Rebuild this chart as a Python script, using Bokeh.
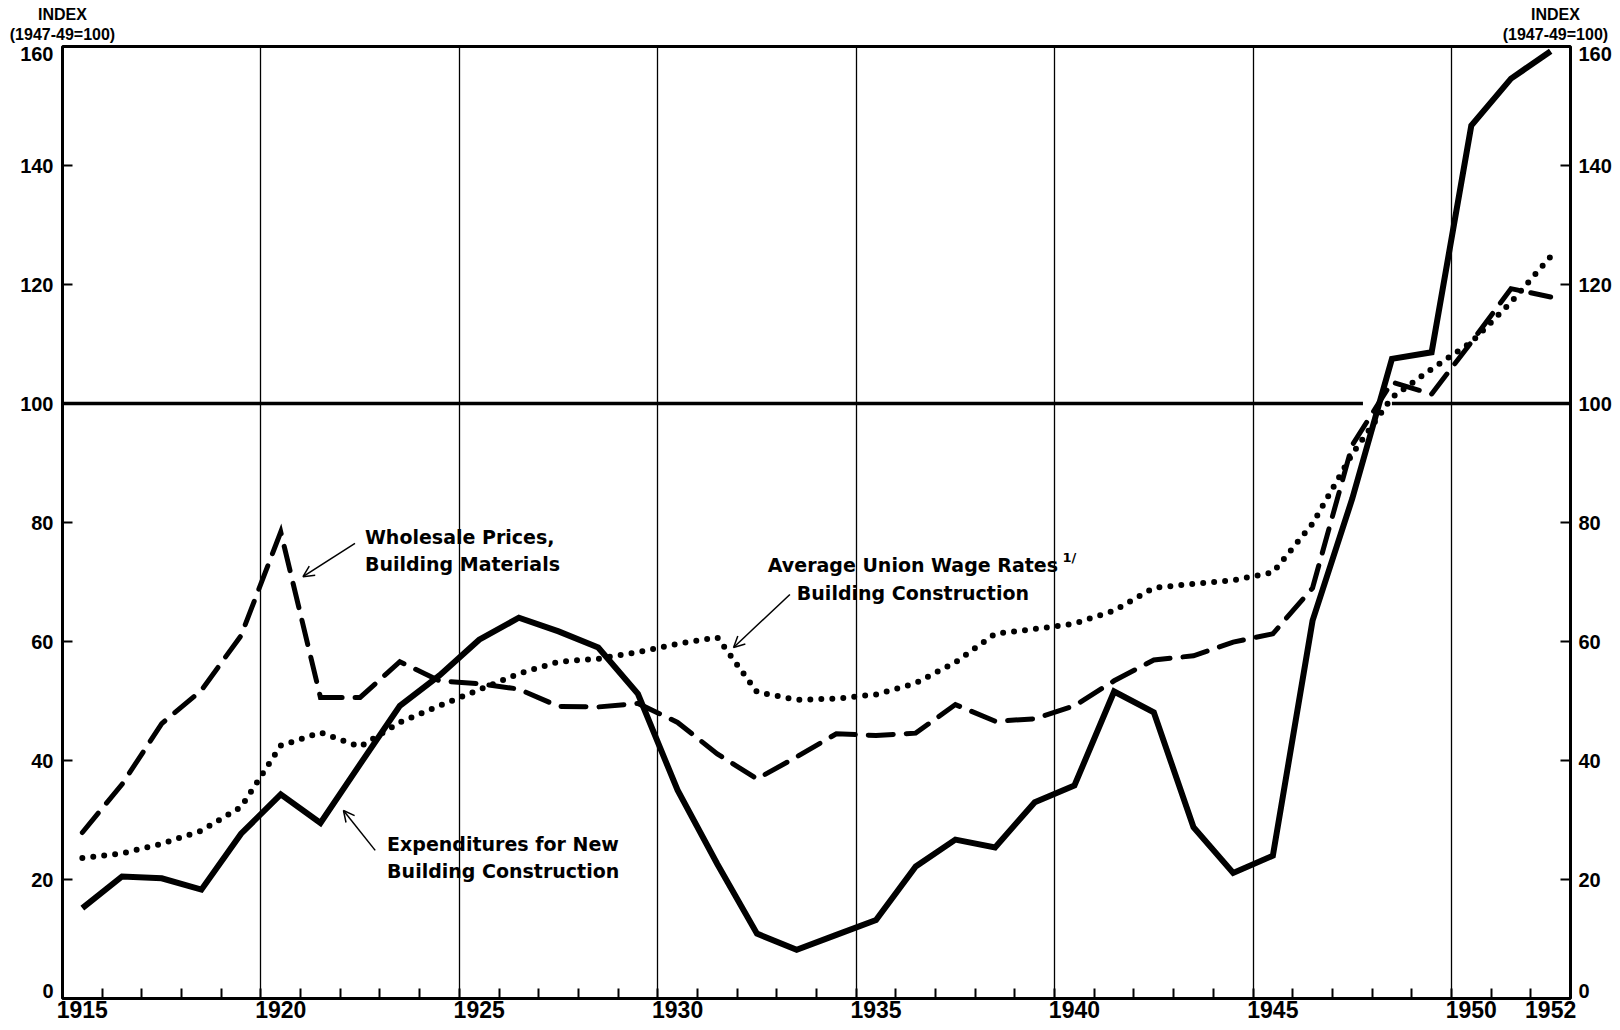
from bokeh.plotting import figure
from bokeh.models import (Range1d, FixedTicker, LinearAxis, CustomJSTickFormatter,
                          Label, Arrow, OpenHead)
from bokeh.embed import file_html
from bokeh.resources import INLINE

# ---------------- data (index, 1947-49 = 100) ----------------
YEARS = list(range(1915, 1953))

EXPENDITURES = [15.2, 20.5, 20.2, 18.3, 27.7, 34.3, 29.5, 39.4, 49.2, 54.3,
                60.3, 64.0, 61.7, 59.0, 51.2, 35.0, 22.6, 10.9, 8.2, 10.7,
                13.2, 22.2, 26.7, 25.4, 33.0, 35.8, 51.6, 48.1, 28.8, 21.1,
                24.0, 63.5, 84.0, 107.5, 108.6, 146.7, 154.6, 159.2]

WHOLESALE = [27.9, 36.0, 46.2, 51.8, 61.0, 78.4, 50.6, 50.6, 56.6, 53.4,
             52.9, 52.0, 49.1, 49.0, 49.6, 46.4, 41.1, 36.9, 40.6, 44.5,
             44.2, 44.6, 49.4, 46.6, 47.0, 49.2, 53.4, 56.9, 57.6, 59.9,
             61.3, 69.0, 93.0, 103.6, 101.6, 110.3, 119.3, 117.9]

UNION_WAGES = [23.6, 24.4, 26.0, 28.2, 32.2, 42.5, 44.7, 42.3, 46.4, 49.2,
               51.9, 54.6, 56.6, 57.1, 58.2, 59.6, 60.7, 51.5, 50.2, 50.4,
               51.1, 53.0, 56.5, 61.3, 62.1, 63.0, 65.2, 69.0, 69.7, 70.3,
               71.6, 79.8, 91.5, 101.0, 105.8, 110.3, 117.0, 124.7]

X_LABEL_YEARS = [1915, 1920, 1925, 1930, 1935, 1940, 1945, 1950, 1952]
GRID_YEARS = [1920, 1925, 1930, 1935, 1940, 1945, 1950]
Y_TICK_VALUES = [0, 20, 40, 60, 80, 100, 120, 140, 160]
BASE_LEVEL = 100
UNIT_TITLE = "INDEX"
UNIT_SUBTITLE = "(1947-49=100)"

# each year occupies [year, year+1]; values plotted at mid-year
xs = [y + 0.5 for y in YEARS]
x_lo, x_hi = YEARS[0], YEARS[-1] + 1

p = figure(width=1620, height=1030,
           x_range=Range1d(x_lo, x_hi), y_range=Range1d(0, 160),
           output_backend="svg", toolbar_location=None,
           min_border_left=62, min_border_right=50,
           min_border_top=46, min_border_bottom=32,
           background_fill_color="white", border_fill_color="white")

p.outline_line_color = "black"
p.outline_line_width = 3

bottom = p.below[0]
left = p.left[0]

# ---------------- axes ----------------
label_pos = [y + 0.5 for y in X_LABEL_YEARS]
bottom.ticker = FixedTicker(ticks=label_pos, minor_ticks=list(range(x_lo + 1, x_hi)))
bottom.formatter = CustomJSTickFormatter(code="return Math.floor(tick).toString();")

y_label_pos = list(Y_TICK_VALUES)
y_label_pos[0] = Y_TICK_VALUES[0] + 1.2
y_label_pos[-1] = Y_TICK_VALUES[-1] - 1.3
y_ticker = FixedTicker(ticks=y_label_pos, minor_ticks=Y_TICK_VALUES[1:-1])
y_fmt = CustomJSTickFormatter(code="return (Math.round(tick/20)*20).toString();")
left.ticker = y_ticker
left.formatter = y_fmt

right = LinearAxis(ticker=y_ticker, formatter=y_fmt)
p.add_layout(right, "right")

# unit captions above both vertical scales (two stacked label-only axes)
unit_ticker = FixedTicker(ticks=[x_lo + 0.0, x_hi - 0.38], minor_ticks=[])
sub_axis = LinearAxis(ticker=unit_ticker,
                      formatter=CustomJSTickFormatter(code='return "%s";' % UNIT_SUBTITLE))
head_axis = LinearAxis(ticker=unit_ticker,
                       formatter=CustomJSTickFormatter(code='return "%s";' % UNIT_TITLE))
p.add_layout(sub_axis, "above")
p.add_layout(head_axis, "above")

for ax in [bottom, left, right, sub_axis, head_axis]:
    ax.axis_line_color = None
    ax.major_tick_in = 0
    ax.major_tick_out = 0
    ax.major_tick_line_color = None
    ax.minor_tick_in = 10
    ax.minor_tick_out = 0
    ax.minor_tick_line_width = 2
    ax.minor_tick_line_color = "black"
    ax.major_label_text_font = "Liberation Sans"
    ax.major_label_text_font_style = "bold"
    ax.major_label_text_color = "black"

bottom.major_label_text_font_size = "23px"
bottom.major_label_standoff = 2
left.major_label_text_font_size = "20px"
left.major_label_standoff = 9
right.major_label_text_font_size = "20px"
right.major_label_standoff = 8
for ax in [sub_axis, head_axis]:
    ax.minor_tick_line_color = None
    ax.major_label_text_font_size = "16px"
sub_axis.major_label_standoff = 4
head_axis.major_label_standoff = 0

p.xgrid.ticker = FixedTicker(ticks=GRID_YEARS)
p.xgrid.grid_line_color = "black"
p.xgrid.grid_line_width = 1.3
p.ygrid.visible = False

# ---------------- base line at 100 (broken where the curves cross) ----------------
p.segment(x0=[x_lo, 1948.5], y0=[BASE_LEVEL, BASE_LEVEL],
          x1=[1947.77, x_hi], y1=[BASE_LEVEL, BASE_LEVEL],
          line_color="black", line_width=3.5)

# ---------------- series ----------------
p.line(xs, UNION_WAGES, line_color="black", line_width=6,
       line_dash="0 11", line_cap="round")
p.line(xs, WHOLESALE, line_color="black", line_width=5,
       line_dash="25 13", line_cap="round", line_join="miter")
p.line(xs, EXPENDITURES, line_color="black", line_width=6, line_join="miter")

# ---------------- annotations ----------------
ANN_FONT = "DejaVu Sans"

def add_text(x, y, text, align="left", size="19px", font=ANN_FONT):
    p.add_layout(Label(x=x, y=y, text=text, text_font=font, text_font_size=size,
                       text_font_style="bold", text_color="black",
                       text_align=align, text_baseline="middle"))

add_text(1922.62, 77.6, "Wholesale Prices,")
add_text(1922.62, 73.1, "Building Materials")
add_text(1936.43, 72.8, "Average Union Wage Rates", align="center")
add_text(1936.43, 68.2, "Building Construction", align="center")
add_text(1940.2, 74.2, "1/", size="13px")
add_text(1923.18, 26.0, "Expenditures for New")
add_text(1923.18, 21.5, "Building Construction")

for (xs0, ys0, xe, ye) in [(1922.37, 76.5, 1921.06, 70.9),
                           (1933.33, 67.9, 1931.91, 59.0),
                           (1922.88, 24.9, 1922.08, 31.6)]:
    p.add_layout(Arrow(end=OpenHead(size=11, line_width=1.5, line_color="black"),
                       x_start=xs0, y_start=ys0, x_end=xe, y_end=ye,
                       line_width=1.5, line_color="black"))

open("out.html", "w").write(file_html(p, INLINE))
